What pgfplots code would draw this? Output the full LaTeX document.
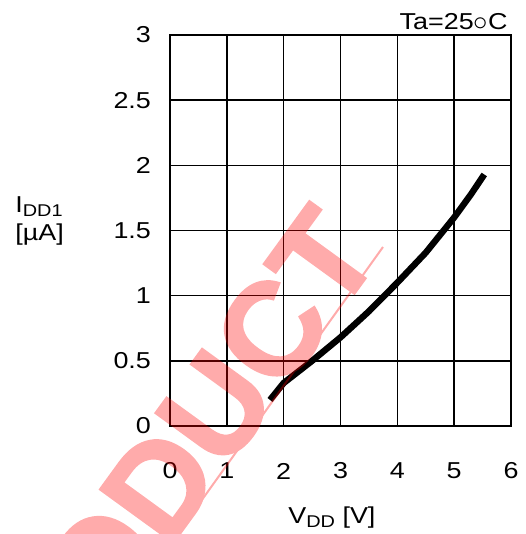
\documentclass[border=0pt]{standalone}
\usepackage{pgfplots}
\pgfplotsset{compat=1.18}
\usepackage{fontspec}
\setmainfont{Liberation Sans}[FakeStretch=1.17]
\newfontfamily\stampfont{Liberation Sans Bold}[FakeBold=1.6]
\begin{document}
\begin{tikzpicture}
\begin{axis}[
  scale only axis,
  width=170.5pt, height=195.5pt,
  xmin=0, xmax=6, ymin=0, ymax=3,
  xtick={0,1,2,3,4,5,6},
  ytick={0,0.5,1,1.5,2,2.5,3},
  grid=major,
  major grid style={black, line width=0.8pt},
  axis line style={black, line width=0.8pt},
  major tick length=0pt,
  tick label style={font=\fontsize{11.5}{13}\selectfont},
  /pgf/number format/assume math mode=true,
  xticklabel style={anchor=center, yshift=-22.5pt},
  yticklabel style={anchor=east, xshift=-6pt},
]
% supply current versus supply voltage
\addplot[black, line width=3.2pt, line join=round] coordinates {
  (1.76,0.20) (2.0,0.33) (2.5,0.50) (3.0,0.68) (3.5,0.88)
  (4.0,1.10) (4.5,1.33) (5.0,1.60) (5.3,1.78) (5.53,1.93)
};
\end{axis}
% labels
\node[anchor=base west, inner sep=0pt, font=\fontsize{11.5}{13}\selectfont]
  at (-77.5pt,106.5pt) {I\raisebox{-2pt}{\fontsize{8.5}{9}\selectfont DD1}};
\node[anchor=base west, inner sep=0pt, font=\fontsize{11.5}{13}\selectfont]
  at (-77.5pt,92.5pt) {[µA]};
\node[anchor=base west, inner sep=0pt, font=\fontsize{11.5}{13}\selectfont]
  at (59pt,-48.5pt) {V\raisebox{-2pt}{\fontsize{8.5}{9}\selectfont DD} [V]};
\node[anchor=base east, inner sep=0pt, font=\fontsize{11.5}{13}\selectfont]
  at (169pt,198pt) {Ta=25\raisebox{-0.3pt}{\fontsize{15}{15}\selectfont$\circ$}C};
% stamp
\begin{scope}[transparency group, opacity=0.33]
\node[rotate=54, anchor=base east, text=red, inner sep=0pt,
  font=\stampfont\fontsize{66}{66}\selectfont] at (107pt,86.5pt) {PRODUCT};
\draw[red, line width=1pt] (106.5pt,89.5pt) -- (-9.5pt,-72.5pt);
\end{scope}
\pgfresetboundingbox
\path[use as bounding box] (-85pt,-54pt) rectangle (177.5pt,213pt);
\end{tikzpicture}
\end{document}
